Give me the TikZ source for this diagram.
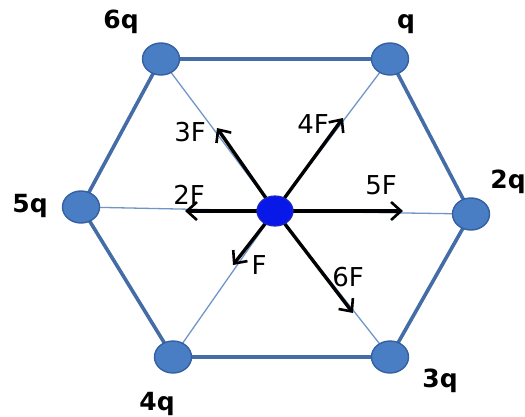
\documentclass[tikz,border=0pt]{standalone}
\usepackage{fontspec}
\setmainfont{DejaVu Sans}
\usetikzlibrary{shapes.geometric,arrows.meta,backgrounds}
\definecolor{vfill}{RGB}{74,126,196}
\definecolor{vdraw}{RGB}{52,96,162}
\definecolor{cfill}{RGB}{8,24,232}
\definecolor{cdraw}{RGB}{30,40,190}
\definecolor{rimc}{RGB}{68,108,166}
\definecolor{spokec}{RGB}{112,150,200}
\begin{document}
\begin{tikzpicture}[x=1pt,y=-1pt,
  vertex/.style={ellipse,draw=vdraw,fill=vfill,line width=1.4pt,minimum width=37pt,minimum height=32pt,inner sep=0pt},
  centre/.style={ellipse,draw=cdraw,fill=cfill,line width=1.2pt,minimum width=36pt,minimum height=30pt,inner sep=0pt},
  charge/.style={font=\bfseries\fontsize{25}{25}\selectfont,anchor=base,inner sep=0pt},
  flabel/.style={font=\fontsize{26}{26}\selectfont,inner sep=0pt},
  rim/.style={draw=rimc,line width=3.6pt},
  spoke/.style={draw=spokec,line width=1.3pt},
  force/.style={draw=black,line width=3.4pt,-{Straight Barb[length=10pt,width=18pt,line width=2.6pt]}}]
\useasboundingbox (0,0) rectangle (525,416);
% vertices
\node[vertex] (v6) at (161,59) {};
\node[vertex] (v1) at (390,59) {};
\node[vertex] (v5) at (81,207) {};
\node[vertex] (v2) at (471,214) {};
\node[vertex] (v4) at (173,357) {};
\node[vertex] (v3) at (390,357) {};
\node[centre] (c) at (275,211) {};
% charge labels
\node[charge] (l6) at (121,28) {6q};
\node[charge] (l1) at (406,28) {q};
\node[charge] (l5) at (30,212) {5q};
\node[charge] (l2) at (508,188) {2q};
\node[charge] (l4) at (157,410) {4q};
\node[charge] (l3) at (440,387) {3q};
% force labels
\node[flabel] (f3) at (190,132) {3F};
\node[flabel] (f4) at (313,124) {4F};
\node[flabel] (f5) at (381,185) {5F};
\node[flabel] (f2) at (189,195) {2F};
\node[flabel] (f1) at (259,265) {F};
\node[flabel] (f6) at (348,277) {6F};
% arrow tips
\coordinate (t3) at (217,128);
\coordinate (t4) at (343,118);
\coordinate (t5) at (403,211);
\coordinate (t2) at (185,211);
\coordinate (t1) at (233,265);
\coordinate (t6) at (353,313);
\begin{scope}[on background layer]
  \draw[rim] (v6.center) -- (v1.center) -- (v2.center) -- (v3.center) -- (v4.center) -- (v5.center) -- cycle;
  \foreach \v in {v1,v2,v3,v4,v5,v6} \draw[spoke] (\v.center) -- (c.center);
  \foreach \t in {t1,t2,t3,t4,t5,t6} \draw[force] (c.center) -- (\t);
\end{scope}
\end{tikzpicture}
\end{document}
